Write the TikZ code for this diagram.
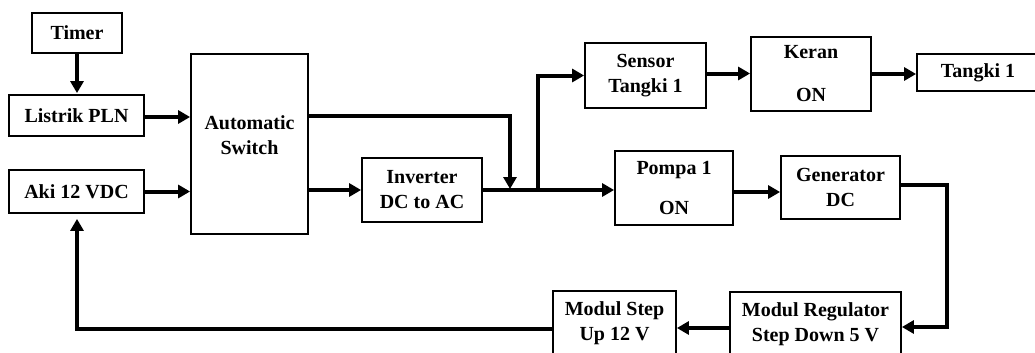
\documentclass[tikz,border=0pt]{standalone}
\usepackage{fontspec}
\setmainfont{Liberation Serif}
\usetikzlibrary{arrows.meta}
\begin{document}
\begin{tikzpicture}[x=1pt,y=-1pt,
  txt/.style={font=\fontsize{20}{25}\selectfont\bfseries,align=center},
  box/.style={draw,line width=1.8pt,inner sep=0pt,txt},
  conn/.style={line width=4pt,-{Triangle[length=12pt,width=13pt]}}]
\useasboundingbox (0,0) rectangle (1035,353);
\clip (0,0) rectangle (1035,353);
% boxes
\node[box,minimum width=90pt,minimum height=40pt] (timer) at (77,33) {Timer};
\node[box,minimum width=135pt,minimum height=41pt] (listrik) at (76.5,115.5) {Listrik PLN};
\node[box,minimum width=135pt,minimum height=43pt] (aki) at (76.5,191.5) {Aki 12 VDC};
\node[box,minimum width=117pt,minimum height=180pt,
  label={[txt,yshift=9pt]center:Automatic\\Switch}] (switch) at (249.5,144) {};
\node[box,minimum width=120pt,minimum height=64pt] (inverter) at (422,190) {Inverter\\DC to AC};
\node[box,minimum width=121pt,minimum height=65pt] (sensor) at (645.5,75.5) {Sensor\\Tangki 1};
\node[box,minimum width=120pt,minimum height=74pt] (keran) at (811,74) {Keran\\[18pt]ON};
\node[box,minimum width=130pt,minimum height=37pt] (tangki) at (982,72.5) {Tangki 1\hspace*{8pt}};
\node[box,minimum width=118pt,minimum height=74pt] (pompa) at (674,188) {Pompa 1\\[15pt]ON};
\node[box,minimum width=119pt,minimum height=63pt] (generator) at (840.5,187.5) {Generator\\DC};
\node[box,minimum width=171pt,minimum height=64pt] (reg) at (815.5,324) {Modul Regulator\\Step Down 5 V};
\node[box,minimum width=123pt,minimum height=64pt] (step) at (614.5,323) {Modul Step\\Up 12 V};
% junctions
\coordinate (ja) at (510,116);
\coordinate (jb) at (538,190);
\coordinate (jc) at (947,185);
\coordinate (jd) at (77,329);
\coordinate (rin) at ([yshift=-3pt]reg.east);
% connectors
\draw[conn,shorten >=1pt] (timer.south) -- (timer.south |- listrik.north);
\draw[conn] ([yshift=-1.5pt]listrik.east) -- ([yshift=-1.5pt]listrik.east -| switch.west);
\draw[conn] (aki.east) -- (aki.east -| switch.west);
\draw[conn,shorten >=1pt] (switch.east |- ja) -- (ja) -- (ja |- inverter.east);
\draw[conn] (switch.east |- inverter.west) -- (inverter.west);
\draw[conn] (inverter.east) -- (inverter.east -| pompa.west);
\draw[conn] (jb) -- (jb |- sensor.west) -- (sensor.west);
\draw[conn] ([yshift=2pt]sensor.east) -- ([yshift=2pt]sensor.east -| keran.west);
\draw[conn] (keran.east) -- (keran.east -| tangki.west);
\draw[conn] ([yshift=-4pt]pompa.east) -- ([yshift=-4pt]pompa.east -| generator.west);
\draw[conn] ([yshift=2.5pt]generator.east) -- (jc) -- (jc |- rin) -- (rin);
\draw[conn] ([yshift=-4pt]reg.west) -- ([yshift=-4pt]reg.west -| step.east);
\draw[conn,shorten >=5pt] ([yshift=-6pt]step.west) -- (jd) -- (jd |- aki.south);
\end{tikzpicture}
\end{document}
